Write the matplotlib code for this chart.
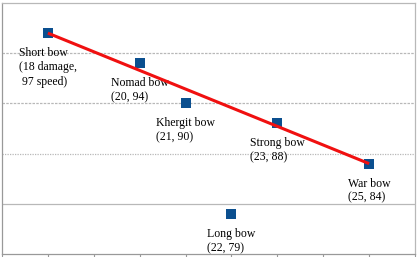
import matplotlib
matplotlib.use('Agg')
import matplotlib.pyplot as plt

# Bow data: damage (x) vs speed (y)
names = ['Short bow', 'Nomad bow', 'Khergit bow', 'Long bow', 'Strong bow', 'War bow']
damage = [18, 20, 21, 22, 23, 25]
speed = [97, 94, 90, 79, 88, 84]
labels = ['Short bow\n(18 damage,\n 97 speed)', 'Nomad bow\n(20, 94)', 'Khergit bow\n(21, 90)',
          'Long bow\n(22, 79)', 'Strong bow\n(23, 88)', 'War bow\n(25, 84)']

# red line from the first bow to the last one
line_x = [18, 25]
line_y = [97, 84]

fig = plt.figure(figsize=(4.18, 2.57), dpi=100)
ax = fig.add_axes([2 / 418, 3 / 257, 413 / 418, 251 / 257])

ax.set_xlim(17, 26)
ax.set_ylim(75, 100)
ax.set_xticks(range(17, 27))
ax.set_yticks([80, 85, 90, 95])
ax.set_xticklabels([])
ax.set_yticklabels([])
ax.tick_params(axis='x', direction='out', length=2.5, color='#999999', width=0.8)
ax.tick_params(axis='y', length=0)

# grid lines
for yv, ls in [(95, (0, (2, 1))), (90, (0, (2, 1))), (85, (0, (1, 1))), (80, '-')]:
    ax.axhline(yv, color='#b8b8b8', lw=0.9, ls=ls, zorder=0)

for side in ['left', 'bottom']:
    ax.spines[side].set_color('#999999')
    ax.spines[side].set_linewidth(0.9)
for side in ['top', 'right']:
    ax.spines[side].set_color('#b8b8b8')
    ax.spines[side].set_linestyle((0, (1, 1)))
    ax.spines[side].set_linewidth(0.9)

ax.scatter(damage, speed, marker='s', s=55, color='#0b4f8f', zorder=3, linewidths=0)

for x, y, t in zip(damage, speed, labels):
    ax.annotate(t, (x, y), xytext=(0, -10), textcoords='offset points',
                ha='center', va='top', multialignment='left',
                fontsize=8.5, family='Liberation Serif', color='#000000',
                linespacing=1.25, zorder=4)

ax.plot(line_x, line_y, color='#f01010', lw=2.2, zorder=5, solid_capstyle='butt')

fig.savefig('out.png', dpi=100)
